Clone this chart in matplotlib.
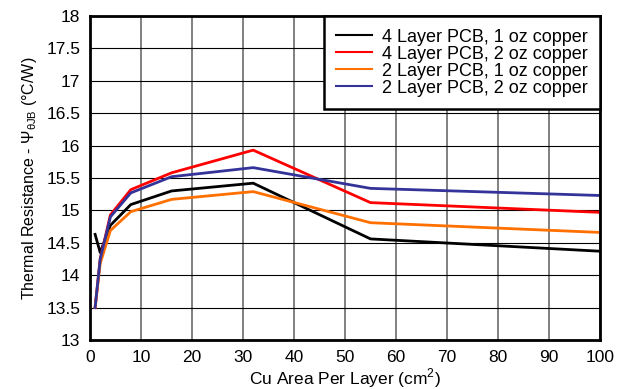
import matplotlib
matplotlib.use("Agg")
import matplotlib.pyplot as plt

plt.rcParams['font.family'] = ['Liberation Sans', 'DejaVu Sans']
plt.rcParams['mathtext.fontset'] = 'custom'
plt.rcParams['mathtext.rm'] = 'Liberation Sans'

area = [1, 2, 4, 8, 16, 32, 55, 100]
l4_1oz = [14.63, 14.35, 14.77, 15.09, 15.30, 15.42, 14.56, 14.37]
l4_2oz = [13.5, 14.25, 14.93, 15.32, 15.58, 15.93, 15.12, 14.97]
l2_1oz = [13.5, 14.18, 14.69, 14.98, 15.17, 15.29, 14.81, 14.66]
l2_2oz = [13.5, 14.25, 14.90, 15.27, 15.52, 15.66, 15.34, 15.23]

series = [
    ("4 Layer PCB, 1 oz copper", l4_1oz, "#000000"),
    ("4 Layer PCB, 2 oz copper", l4_2oz, "#ff0000"),
    ("2 Layer PCB, 1 oz copper", l2_1oz, "#ff7000"),
    ("2 Layer PCB, 2 oz copper", l2_2oz, "#333399"),
]

xticks = list(range(0, 101, 10))
yticks = [13 + 0.5 * i for i in range(11)]
ytick_labels = ["13", "13.5", "14", "14.5", "15", "15.5", "16", "16.5", "17", "17.5", "18"]

fig = plt.figure(figsize=(6.28, 3.89), dpi=100)
ax = fig.add_axes([90/628, 1 - 340/389, 510/628, 324/389])

for label, vals, col in series:
    ax.plot(area, vals, color=col, lw=2, label=label, zorder=3)

ax.set_xlim(0, 100)
ax.set_ylim(13, 18)
ax.set_xticks(xticks)
ax.set_yticks(yticks)
ax.set_yticklabels(ytick_labels)
ax.tick_params(length=0, labelsize=12.5, pad=7)
ax.xaxis.grid(True, color="#808080", lw=1.4)
ax.yaxis.grid(True, color="#000000", lw=0.8)
ax.set_axisbelow(True)
for s in ax.spines.values():
    s.set_linewidth(2)
    s.set_zorder(5)

ax.set_xlabel("Cu Area Per Layer (cm$^\\mathrm{2}$)", fontsize=12.5, labelpad=1)
ax.set_ylabel("Thermal Resistance - Ψ$_\\mathrm{\\theta JB}$ (°C/W)", fontsize=11.5, labelpad=5)

leg = ax.legend(loc="upper right", fontsize=13, frameon=True, fancybox=False,
                borderaxespad=0, handlelength=1.95, labelspacing=0.0,
                borderpad=0.7, handletextpad=0.55)
leg.get_frame().set_edgecolor("black")
leg.get_frame().set_linewidth(1.8)
leg.get_frame().set_alpha(1)
for line in leg.get_lines():
    line.set_linewidth(1.5)

fig.savefig("out.png", dpi=100)
